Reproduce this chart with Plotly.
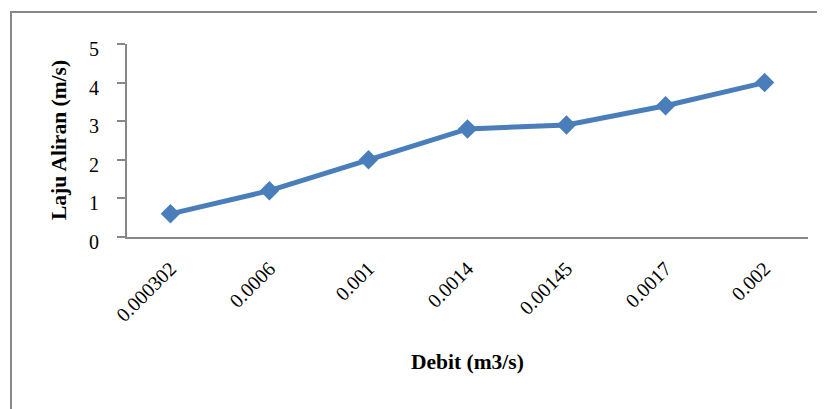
import plotly.graph_objects as go

categories = ["0.000302", "0.0006", "0.001", "0.0014", "0.00145", "0.0017", "0.002"]
laju = [0.6, 1.2, 2.0, 2.8, 2.9, 3.4, 4.0]
y_ticks = [0, 1, 2, 3, 4, 5]

FONT = "Liberation Serif, Times New Roman, serif"
BLUE = "#4a7ebb"
GRAY = "#888888"

# page body has an 8px margin; compensate so plot area lands at x 127..808, y 44..237
OFF = 8
W, H = 825 - OFF, 409 - OFF
L, T = 127 - OFF, 44 - OFF
R = 17
B = 409 - 237
PW = W - L - R
PH = H - T - B

def px(xa):
    return (xa - 127) / PW

def py(ya):
    return (237 - ya) / PH

fig = go.Figure()
fig.add_trace(go.Scatter(
    x=categories, y=laju, mode="lines+markers",
    line=dict(color=BLUE, width=5),
    marker=dict(symbol="diamond", size=15, color=BLUE),
    showlegend=False, cliponaxis=False,
))

fig.update_layout(
    width=W, height=H,
    margin=dict(l=L, r=R, t=T, b=B),
    paper_bgcolor="white", plot_bgcolor="white",
    font=dict(family=FONT, size=20, color="black"),
    xaxis=dict(type="category", showline=True, linecolor=GRAY, linewidth=2,
               ticks="", tickangle=-45, showgrid=False, zeroline=False,
               tickfont=dict(size=20), ticklabelstandoff=10),
    yaxis=dict(range=[0, 5], tickvals=y_ticks, showline=True, linecolor=GRAY,
               linewidth=2, ticks="outside", ticklen=8, tickwidth=2, tickcolor=GRAY,
               showgrid=False, zeroline=False, tickfont=dict(size=20),
               ticklabelstandoff=14, ticklabelshift=5),
    shapes=[dict(type="rect", xref="paper", yref="paper",
                 x0=px(11), x1=1.2, y0=-2, y1=py(12),
                 line=dict(color=GRAY, width=2), fillcolor="rgba(0,0,0,0)", layer="below")],
    annotations=[
        dict(text="<b>Laju Aliran (m/s)</b>", xref="paper", yref="paper",
             x=px(59), y=py(140), textangle=-90,
             showarrow=False, font=dict(size=21.5), xanchor="center", yanchor="middle"),
        dict(text="<b>Debit (m3/s)</b>", xref="paper", yref="paper",
             x=px(467), y=py(362),
             showarrow=False, font=dict(size=21.5), xanchor="center", yanchor="middle"),
    ],
)

fig.write_html("out.html")
